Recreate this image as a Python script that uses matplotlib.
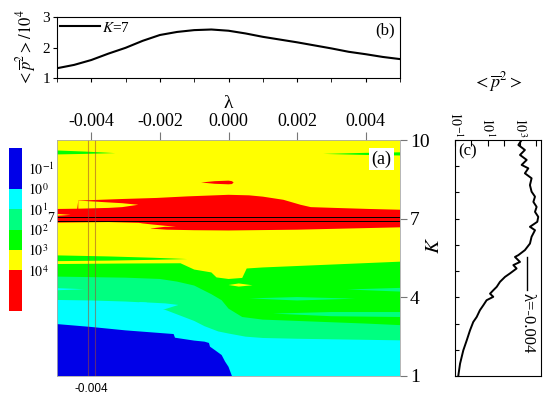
import numpy as np
import matplotlib

matplotlib.use("Agg")
import matplotlib.pyplot as plt  # noqa: E402
from matplotlib.colors import ListedColormap, BoundaryNorm  # noqa: E402
from matplotlib.cm import ScalarMappable  # noqa: E402
from matplotlib.ticker import FixedLocator, FixedFormatter, LogLocator, NullFormatter  # noqa: E402

plt.rcParams["font.family"] = ["Liberation Serif", "DejaVu Serif"]
plt.rcParams["mathtext.fontset"] = "stix"

# ---- panel (b): <p^2> vs lambda at K=7 ----
lam_b = [-0.005, -0.0045, -0.004, -0.0035, -0.003, -0.0025, -0.002, -0.0015, -0.001, -0.0005,
         0.0, 0.0005, 0.001, 0.0015, 0.002, 0.0025, 0.003, 0.0035, 0.004, 0.0045, 0.005]
p2_b = [1.32, 1.43, 1.59, 1.80, 1.99, 2.22, 2.41, 2.51, 2.57, 2.59,
        2.55, 2.46, 2.35, 2.26, 2.17, 2.07, 1.97, 1.86, 1.78, 1.69, 1.62]

# ---- panel (c): log10 <p^2> vs K at lambda=-0.004 ----
k_c = [10.0, 9.81, 9.62, 9.43, 9.24, 9.05, 8.92, 8.73, 8.54, 8.28, 8.03, 7.84, 7.64, 7.45,
       7.26, 7.07, 6.88, 6.69, 6.56, 6.31, 6.05, 5.80, 5.61, 5.54, 5.35, 5.23, 5.10, 4.91,
       4.78, 4.59, 4.40, 4.27, 4.14, 4.02, 3.89, 3.70, 3.51, 3.25, 3.06, 2.74, 2.36, 1.98,
       1.47, 1.0]
logp2_c = [3.09, 2.89, 3.29, 2.99, 3.40, 3.09, 3.50, 3.29, 3.70, 3.60, 3.70, 3.91, 3.81, 4.01,
           3.91, 4.11, 4.05, 3.60, 3.91, 3.70, 3.60, 3.29, 2.89, 2.68, 2.99, 2.58, 2.78, 2.37,
           2.07, 1.76, 1.56, 1.35, 1.15, 1.35, 0.94, 0.74, 0.53, 0.33, 0.12, -0.08, -0.28, -0.49,
           -0.69, -0.80]

# ---- panel (a): contour level boundaries K(lambda) ----
level_exps = [-2, 0, 1, 2, 3, 4, 6]
level_ticks = [-1, 0, 1, 2, 3, 4]
BLUE, CYAN, LGREEN, GREEN, YELLOW, RED = "#0000e8", "#00ffff", "#00ff80", "#00ff00", "#ffff00", "#ff0000"
level_colors = [BLUE, CYAN, LGREEN, GREEN, YELLOW, RED]

lam_red_hi = [-0.005, -0.00441, -0.00438, -0.0031, -0.0021, -0.0012, 0.0, 0.0006, 0.001,
              0.0016, 0.0021, 0.0024, 0.0031, 0.0041, 0.005]
k_red_hi = [7.37, 7.38, 7.69, 7.75, 7.79, 7.85, 7.91, 7.89, 7.84, 7.72, 7.53, 7.44, 7.41, 7.37, 7.34]

lam_red_lo = [-0.005, -0.0035, -0.0026, -0.00224, -0.0018, -0.001, 0.0, 0.002, 0.005]
k_red_lo = [6.85, 6.87, 6.84, 6.62, 6.58, 6.56, 6.55, 6.58, 6.67]

lam_green = [-0.005, -0.003, -0.0014, -0.001, -0.0005, -0.00035, 0.0, 0.0004, 0.00053, 0.001, 0.003, 0.005]
k_green = [5.27, 5.29, 5.30, 5.06, 4.95, 4.76, 4.70, 4.74, 5.10, 5.14, 5.25, 5.36]

lam_lgreen = [-0.005, -0.003, -0.002, -0.0015, -0.001, -0.0005, -0.0002, 0.0, 0.0004, 0.001,
              0.002, 0.003, 0.004, 0.005]
k_lgreen = [4.79, 4.75, 4.70, 4.60, 4.45, 4.12, 3.89, 3.57, 3.25, 3.15, 3.10, 3.05, 3.00, 2.94]

lam_cyan = [-0.005, -0.004, -0.003, -0.0024, -0.0019, -0.0015, -0.001, -0.0007, -0.0003, 0.0,
            0.0005, 0.001, 0.002, 0.003, 0.004, 0.005]
k_cyan = [3.90, 3.88, 3.84, 3.80, 3.55, 3.35, 3.10, 2.90, 2.70, 2.62, 2.50, 2.45, 2.42, 2.40, 2.38, 2.36]

lam_blue = [-0.005, -0.004, -0.003, -0.002, -0.0016, -0.00156, -0.001, -0.0007, -0.00057, -0.00054,
            -0.0004, -0.0002, -0.0001, 0.0, 0.0001, 0.005]
k_blue = [2.98, 2.87, 2.74, 2.64, 2.60, 2.46, 2.35, 2.31, 2.26, 2.12, 1.99, 1.80, 1.55, 1.35, 1.0, 1.0]

# small islands / streaks: (colour, lambda, upper K, lower K)
islands = [
    (GREEN, [-0.005, -0.0042, -0.0033], [9.60, 9.56, 9.50], [9.45, 9.47, 9.50]),
    (GREEN, [0.00276, 0.004, 0.005], [9.47, 9.51, 9.53], [9.47, 9.43, 9.41]),
    (RED, [-0.0008, -0.0004, 0.0, 0.0001, 0.00015], [8.38, 8.43, 8.45, 8.43, 8.38], [8.38, 8.33, 8.31, 8.32, 8.38]),
    (YELLOW, [-0.00438, -0.0035, -0.0031, -0.00263], [7.69, 7.62, 7.59, 7.53], [7.38, 7.41, 7.44, 7.53]),
    (YELLOW, [-0.005, -0.0046], [7.18, 7.145], [7.11, 7.145]),
    (YELLOW, [-0.00258, -0.00224, -0.00185, -0.00153], [6.83, 6.78, 6.73, 6.69], [6.55, 6.63, 6.69, 6.69]),
    (GREEN, [-0.005, -0.0035, -0.0022, -0.0012], [5.60, 5.56, 5.51, 5.46], [5.38, 5.40, 5.43, 5.46]),
    (YELLOW, [0.0, 0.0003, 0.0007], [4.47, 4.53, 4.46], [4.47, 4.41, 4.46]),
    (CYAN, [-0.005, -0.0042], [4.35, 4.31], [4.27, 4.31]),
    (LGREEN, [0.00345, 0.005], [4.30, 4.36], [4.30, 4.22]),
    (LGREEN, [0.0006, 0.002, 0.0037], [3.96, 4.01, 3.95], [3.96, 3.88, 3.95]),
    (LGREEN, [0.0013, 0.003, 0.005], [3.38, 3.44, 3.44], [3.38, 3.28, 3.25]),
    (CYAN, [-0.0026, -0.00185, -0.00146], [3.82, 3.77, 3.71], [3.55, 3.55, 3.71]),
]

lam_cut = -0.004
k_cut = 7

W, H = 550, 396


def box(x0, y0, w, h):
    """pixel box (left, top, width, height) -> figure fraction rect"""
    return [x0 / W, 1 - (y0 + h) / H, w / W, h / H]


fig = plt.figure(figsize=(W / 100, H / 100), dpi=100)
ax_b = fig.add_axes(box(57, 17, 343, 61))
ax_a = fig.add_axes(box(57, 140, 343, 236))
ax_c = fig.add_axes(box(455, 140, 85.7, 236))
cax = fig.add_axes(box(9, 148, 13, 163))

# ---- (b) ----
ax_b.plot(lam_b, p2_b, color="k", lw=1.5, label="$K$=7")
ax_b.set_xlim(-0.005, 0.005)
ax_b.set_ylim(1, 3)
ax_b.set_yticks([1, 2, 3])
ax_b.set_xticks([-0.004, -0.002, 0.0, 0.002, 0.004])
ax_b.set_xticks(np.arange(-0.005, 0.0051, 0.001), minor=True)
ax_b.tick_params(axis="x", which="both", labelbottom=False, direction="out", length=3)
ax_b.tick_params(axis="y", labelsize=11, direction="out", length=3, pad=2)
ax_b.set_ylabel(r"$<\overline{p}^2>/10^4$", fontsize=12, labelpad=3)
ax_b.legend(loc="upper left", bbox_to_anchor=(0.0, 0.99), frameon=False, fontsize=11,
            handlelength=2.6, handletextpad=0.15, borderaxespad=0.1, borderpad=0.1)
ax_b.text(0.985, 0.78, "(b)", transform=ax_b.transAxes, ha="right", va="center", fontsize=12)

# ---- (a) ----
ax_a.set_facecolor(YELLOW)
fill = dict(lw=0, edgecolor="none")
ax_a.fill_between(lam_red_hi, 1, k_red_hi, color=RED, **fill)
ax_a.fill_between(lam_red_lo, 1, k_red_lo, color=YELLOW, **fill)
ax_a.fill_between(lam_green, 1, k_green, color=GREEN, **fill)
ax_a.fill_between(lam_lgreen, 1, k_lgreen, color=LGREEN, **fill)
ax_a.fill_between(lam_cyan, 1, k_cyan, color=CYAN, **fill)
ax_a.fill_between(lam_blue, 1, k_blue, color=BLUE, **fill)
for col, lam, hi, lo in islands:
    ax_a.fill_between(lam, lo, hi, color=col, **fill)

for dk in (-0.07, 0.07):
    ax_a.axhline(k_cut + dk, color="k", lw=0.7)
for dl in (-0.0001, 0.0001):
    ax_a.axvline(lam_cut + dl, color="#a04830", lw=0.8, alpha=0.55)

ax_a.set_xlim(-0.005, 0.005)
ax_a.set_ylim(1, 10)
ax_a.xaxis.tick_top()
ax_a.xaxis.set_label_position("top")
ax_a.set_xticks([-0.004, -0.002, 0.0, 0.002, 0.004])
ax_a.set_xticklabels(["-0.004", "-0.002", "0.000", "0.002", "0.004"])
ax_a.tick_params(axis="x", labelsize=13, direction="out", length=6, pad=1.5, color="#777777")
ax_a.set_xlabel("λ", fontsize=14, labelpad=3)
ax_a.yaxis.tick_right()
ax_a.set_yticks([1, 4, 7, 10])
ax_a.tick_params(axis="y", labelsize=14, direction="out", length=5, pad=2, color="#777777")
for sp in ax_a.spines.values():
    sp.set_color("#aaaaaa")
    sp.set_linewidth(0.6)
ax_a.text(1.1, 0.555, "$K$", transform=ax_a.transAxes, rotation=90, ha="center", va="center", fontsize=15)
ax_a.text(0.975, 0.955, "(a)", transform=ax_a.transAxes, ha="right", va="top", fontsize=13,
          bbox=dict(facecolor="white", edgecolor="none", pad=1.5))
ax_a.text(-0.01, k_cut, str(k_cut), transform=ax_a.get_yaxis_transform(), ha="right", va="center", fontsize=10)
ax_a.text(lam_cut, -0.03, "-0.004", transform=ax_a.get_xaxis_transform(), ha="center", va="top",
          fontsize=8.5, family=["Liberation Sans", "DejaVu Sans"])

# ---- colour bar ----
cmap = ListedColormap(level_colors)
norm = BoundaryNorm(level_exps, cmap.N)
cb = fig.colorbar(ScalarMappable(norm=norm, cmap=cmap), cax=cax, spacing="proportional", ticks=level_ticks)
cb.ax.invert_yaxis()
cb.ax.minorticks_off()
cb.set_ticklabels([f"$10^{{{e}}}$" for e in level_ticks])
cb.ax.tick_params(which="both", length=0, labelsize=10, pad=4)
cb.outline.set_visible(False)

# ---- (c) ----
ax_c.plot(10.0 ** np.array(logp2_c), k_c, color="k", lw=1.4)
ax_c.set_xscale("log")
ax_c.set_xlim(0.1, 10 ** 4.26)
ax_c.set_ylim(1, 10)
ax_c.xaxis.tick_top()
ax_c.xaxis.set_major_locator(FixedLocator([0.1, 1, 10, 100, 1000, 10000]))
ax_c.xaxis.set_major_formatter(FixedFormatter(["$10^{-1}$", "", "$10^{1}$", "", "$10^{3}$", ""]))
ax_c.xaxis.set_minor_locator(LogLocator(base=10, subs=np.arange(2, 10)))
ax_c.xaxis.set_minor_formatter(NullFormatter())
ax_c.tick_params(axis="x", which="major", direction="in", length=4, labelsize=10, labelrotation=270, pad=2)
ax_c.tick_params(axis="x", which="minor", direction="in", length=2)
ax_c.set_yticks(range(1, 11))
ax_c.tick_params(axis="y", direction="in", length=3, labelleft=False)
ax_c.text(0.5, 1.245, r"$<\overline{p}^2>$", transform=ax_c.transAxes, ha="center", va="center", fontsize=13)
ax_c.text(0.04, 0.985, "(c)", transform=ax_c.transAxes, ha="left", va="top", fontsize=12)
ax_c.plot([0.845, 0.845], [0.365, 0.505], transform=ax_c.transAxes, color="k", lw=1)
ax_c.text(0.845, 0.352, "λ=-0.004", transform=ax_c.transAxes, rotation=270, ha="center", va="top", fontsize=12)

fig.savefig("out.png", dpi=100)
